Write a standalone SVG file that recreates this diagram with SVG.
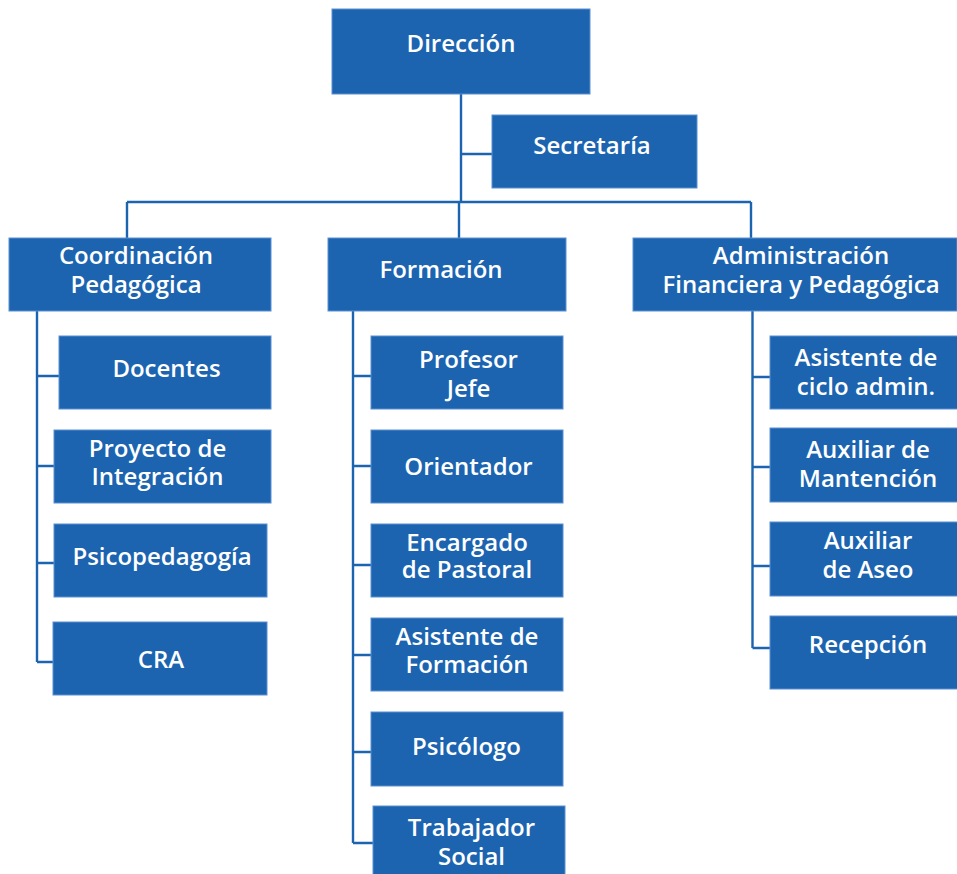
<svg xmlns="http://www.w3.org/2000/svg" width="957" height="874" viewBox="0 0 957 874">
<style>
.box{fill:#1c64b0;stroke:#5a8fd0;stroke-width:1}
.lbl{font-family:"Open Sans","Noto Sans","Liberation Sans",sans-serif;font-weight:600;font-size:24px;fill:#ffffff;text-anchor:middle}
.con{fill:none;stroke:#1c64b0;stroke-width:2.4}
</style>
<rect width="957" height="874" fill="#ffffff"/>
<g id="connectors">
<path class="con" d="M461,94 V202 M461,154 H492 M127,202 H751 M127,202 V238 M459,202 V238 M751,202 V238"/>
<path class="con" d="M37,311 V662 M37,376 H59 M37,466 H54 M37,563 H54 M37,662 H53"/>
<path class="con" d="M353,311 V843 M353,376 H371 M353,466 H371 M353,565 H371 M353,655 H371 M353,752 H371 M353,843 H373"/>
<path class="con" d="M752.5,311 V648 M752.5,377 H770 M752.5,467 H770 M752.5,566 H770 M752.5,648 H770"/>
</g>
<g id="direccion"><rect class="box" x="332" y="9" width="258" height="85"/><text class="lbl" x="461" y="52">Dirección</text></g>
<g id="secretaria"><rect class="box" x="492" y="115" width="205" height="73"/><text class="lbl" x="592" y="154">Secretaría</text></g>
<g id="coordinacion"><rect class="box" x="9" y="238" width="262" height="73"/><text class="lbl" x="136" y="264">Coordinación</text><text class="lbl" x="136" y="293">Pedagógica</text></g>
<g id="formacion"><rect class="box" x="328" y="238" width="238" height="73"/><text class="lbl" x="441" y="278">Formación</text></g>
<g id="administracion"><rect class="box" x="633" y="238" width="324" height="73"/><text class="lbl" x="801" y="264">Administración</text><text class="lbl" x="801" y="293">Financiera y Pedagógica</text></g>
<g id="docentes"><rect class="box" x="59" y="336" width="212" height="73"/><text class="lbl" x="166.5" y="377">Docentes</text></g>
<g id="proyecto"><rect class="box" x="54" y="430" width="217" height="73"/><text class="lbl" x="157.5" y="457">Proyecto de</text><text class="lbl" x="157.5" y="485">Integración</text></g>
<g id="psicopedagogia"><rect class="box" x="54" y="524" width="213" height="73"/><text class="lbl" x="162" y="565">Psicopedagogía</text></g>
<g id="cra"><rect class="box" x="53" y="622" width="214" height="73"/><text class="lbl" x="161" y="668">CRA</text></g>
<g id="profesor"><rect class="box" x="371" y="336" width="192" height="73"/><text class="lbl" x="468.5" y="368">Profesor</text><text class="lbl" x="468.5" y="397">Jefe</text></g>
<g id="orientador"><rect class="box" x="371" y="430" width="192" height="73"/><text class="lbl" x="468.5" y="475">Orientador</text></g>
<g id="encargado"><rect class="box" x="371" y="524" width="192" height="73"/><text class="lbl" x="467" y="551">Encargado</text><text class="lbl" x="467" y="578">de Pastoral</text></g>
<g id="asistente-formacion"><rect class="box" x="371" y="618" width="192" height="73"/><text class="lbl" x="467" y="645">Asistente de</text><text class="lbl" x="467" y="673">Formación</text></g>
<g id="psicologo"><rect class="box" x="371" y="712" width="192" height="74"/><text class="lbl" x="466.5" y="755">Psicólogo</text></g>
<g id="trabajador"><rect class="box" x="373" y="806" width="192" height="72"/><text class="lbl" x="471.5" y="836">Trabajador</text><text class="lbl" x="471.5" y="865">Social</text></g>
<g id="asistente-ciclo"><rect class="box" x="770" y="336" width="190" height="73"/><text class="lbl" x="866" y="366">Asistente de</text><text class="lbl" x="866" y="395">ciclo admin.</text></g>
<g id="auxiliar-mantencion"><rect class="box" x="770" y="428" width="190" height="74"/><text class="lbl" x="868" y="458">Auxiliar de</text><text class="lbl" x="868" y="487">Mantención</text></g>
<g id="auxiliar-aseo"><rect class="box" x="770" y="522" width="190" height="74"/><text class="lbl" x="868" y="549">Auxiliar</text><text class="lbl" x="868" y="578">de Aseo</text></g>
<g id="recepcion"><rect class="box" x="770" y="616" width="190" height="73"/><text class="lbl" x="868" y="653">Recepción</text></g>
</svg>
